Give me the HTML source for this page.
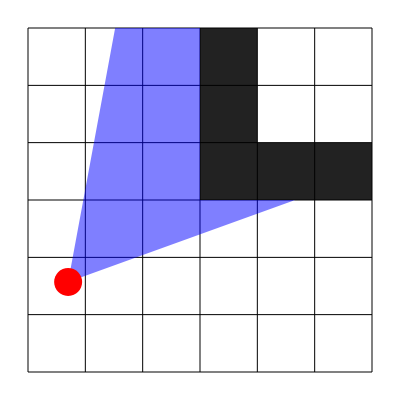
<!DOCTYPE html>
<html><head><meta charset="utf-8"><style>html,body{margin:0;padding:0;background:#fff}svg{display:block}</style></head>
<body>
<svg id="chart" width="400" height="400"></svg>
<script>
const gridCols = 6;
const gridRows = 6;
const wallCells = [[3,0],[3,1],[3,2],[4,2],[5,2]];
const viewerPos = [0.70, 4.43];
const visibilityPoly = [[0.70,4.43],[1.52,0],[3,0],[3,3],[4.66,3]];
const ox = 28, oy = 28, cs = 344/6;
const X = c => ox + c*cs, Y = r => oy + r*cs;
const svg = document.getElementById('chart');
const NS = 'http://www.w3.org/2000/svg';
function mk(t, a){const e=document.createElementNS(NS,t);for(const k in a)e.setAttribute(k,a[k]);svg.appendChild(e);return e;}
for (const [c,r] of wallCells){
  const e = mk('rect',{x:X(c),y:Y(r),width:cs,height:cs,fill:'#222'});
  
  
}
for (let i=0;i<=gridCols;i++){
  const e = mk('line',{x1:X(i),y1:Y(0),x2:X(i),y2:Y(gridRows),stroke:'#000','stroke-width':1});
  
  
}
for (let j=0;j<=gridRows;j++){
  const e = mk('line',{x1:X(0),y1:Y(j),x2:X(gridCols),y2:Y(j),stroke:'#000','stroke-width':1});
  
  
}
const poly = mk('polygon',{points:visibilityPoly.map(p=>X(p[0])+','+Y(p[1])).join(' '),fill:'#0000ff','fill-opacity':0.5});


const dot = mk('circle',{cx:X(viewerPos[0]),cy:Y(viewerPos[1]),r:14,fill:'#ff0000'});


</script>
</body></html>
